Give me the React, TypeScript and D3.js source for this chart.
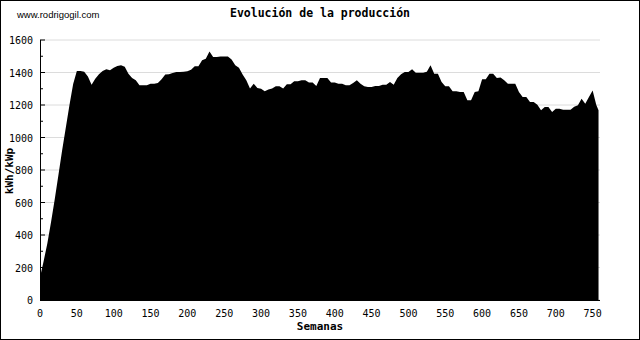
import { useMemo } from "react";
import * as d3 from "d3";

const WIDTH = 640;
const HEIGHT = 340;

// kWh/kWp accumulated, one reading every 5 weeks (week 0, 5, 10, ...)
const WEEK_STEP = 5;
const LAST_WEEK = 758;
const production = [
  140, 240, 350, 480, 620, 770, 920, 1060, 1200, 1330,
  1410, 1410, 1405, 1376, 1325, 1362, 1390, 1410, 1420, 1414,
  1430, 1440, 1445, 1436, 1393, 1366, 1352, 1321, 1321, 1321,
  1331, 1331, 1335, 1358, 1387, 1390, 1397, 1403, 1403, 1405,
  1407, 1417, 1438, 1438, 1475, 1485, 1530, 1495, 1495, 1499,
  1499, 1499, 1480, 1445, 1430, 1387, 1352, 1301, 1331, 1305,
  1300, 1284, 1295, 1301, 1315, 1315, 1301, 1328, 1328, 1346,
  1346, 1352, 1352, 1338, 1338, 1317, 1366, 1366, 1366, 1338,
  1338, 1331, 1331, 1321, 1321, 1335, 1352, 1331, 1315, 1311,
  1311, 1317, 1317, 1325, 1325, 1342, 1325, 1366, 1390, 1403,
  1403, 1420, 1399, 1399, 1399, 1405, 1445, 1393, 1393, 1342,
  1315, 1315, 1284, 1284, 1280, 1280, 1229, 1229, 1280, 1285,
  1358, 1358, 1393, 1393, 1366, 1370, 1352, 1331, 1331, 1331,
  1280, 1249, 1249, 1218, 1218, 1202, 1167, 1187, 1187, 1157,
  1177, 1177, 1171, 1171, 1171, 1190, 1198, 1239, 1208, 1249,
  1290, 1200,
];
const lastValue = 1167;

const xTicks = [0, 50, 100, 150, 200, 250, 300, 350, 400, 450, 500, 550, 600, 650, 700, 750];
const yTicks = [0, 200, 400, 600, 800, 1000, 1200, 1400, 1600];
const yMinorTicks = [100, 300, 500, 700, 900, 1100, 1300, 1500];

const TITLE = "Evolución de la producción";
const SITE = "www.rodrigogil.com";
const X_LABEL = "Semanas";
const Y_LABEL = "kWh/kWp";

const PLOT = { left: 40, right: 600, top: 40, bottom: 300 };
const MONO = "'DejaVu Sans Mono', monospace";

export default function App() {
  const x = d3.scaleLinear().domain([0, 760]).range([PLOT.left, PLOT.right]);
  const y = d3.scaleLinear().domain([0, 1600]).range([PLOT.bottom, PLOT.top]);

  const areaPath = useMemo(() => {
    const pts: [number, number][] = production.map((v, i) => [i * WEEK_STEP, v]);
    pts.push([LAST_WEEK, lastValue]);
    const gen = d3
      .area<[number, number]>()
      .x((d) => x(d[0]))
      .y0(y(0))
      .y1((d) => y(d[1]));
    return gen(pts) || "";
  }, []);

  return (
    <svg
      width={WIDTH}
      height={HEIGHT}
      style={{ position: "fixed", top: 0, left: 0, background: "#fff" }}
    >
      <rect x={0.5} y={0.5} width={WIDTH - 1} height={HEIGHT - 1} fill="#fff" stroke="#000" />

      <text x={17} y={18} fontFamily="'Liberation Sans', sans-serif" fontSize={9.5} fill="#000">
        {SITE}
      </text>
      <text
        x={320}
        y={17}
        textAnchor="middle"
        fontFamily={MONO}
        fontWeight="bold"
        fontSize={11.5}
        fill="#000"
      >
        {TITLE}
      </text>

      {/* grid */}
      {yTicks.map((t) => (
        <line key={"g" + t} x1={PLOT.left} x2={PLOT.right} y1={y(t)} y2={y(t)} stroke="#dcdcdc" />
      ))}

      <path d={areaPath} fill="#000" />

      {/* y axis */}
      <line x1={PLOT.left + 0.5} x2={PLOT.left + 0.5} y1={PLOT.top} y2={PLOT.bottom} stroke="#000" />
      {yTicks.map((t) => (
        <line key={"t" + t} x1={PLOT.left} x2={PLOT.left + 5} y1={y(t)} y2={y(t)} stroke="#000" />
      ))}
      {yMinorTicks.map((t) => (
        <line key={"m" + t} x1={PLOT.left} x2={PLOT.left + 3} y1={y(t)} y2={y(t)} stroke="#000" />
      ))}
      {yTicks.map((t) => (
        <text
          key={"l" + t}
          x={33}
          y={y(t) + 4}
          textAnchor="end"
          fontFamily={MONO}
          fontSize={10}
          fill="#000"
        >
          {t}
        </text>
      ))}

      {/* x axis */}
      <line x1={PLOT.left} x2={PLOT.right} y1={PLOT.bottom + 0.5} y2={PLOT.bottom + 0.5} stroke="#000" />
      {xTicks.map((t) => (
        <text
          key={"x" + t}
          x={x(t)}
          y={317}
          textAnchor="middle"
          fontFamily={MONO}
          fontSize={10}
          fill="#000"
        >
          {t}
        </text>
      ))}

      <text
        x={320}
        y={330}
        textAnchor="middle"
        fontFamily={MONO}
        fontWeight="bold"
        fontSize={11}
        fill="#000"
      >
        {X_LABEL}
      </text>
      <text
        transform={`translate(13, 171) rotate(-90)`}
        textAnchor="middle"
        fontFamily={MONO}
        fontWeight="bold"
        fontSize={11}
        fill="#000"
      >
        {Y_LABEL}
      </text>
    </svg>
  );
}
